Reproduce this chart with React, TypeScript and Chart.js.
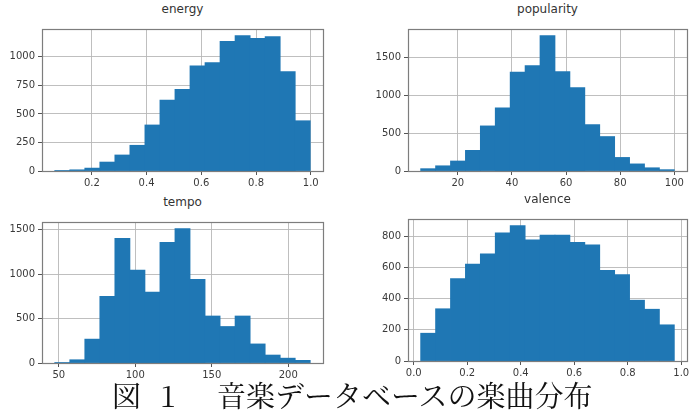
import React, { useEffect, useRef } from "react";
import { Chart, registerables } from "chart.js";
Chart.register(...registerables);

// ---- data (17 equal-width bins per histogram) ----
const energyRange = [0.0646, 0.998];
const energyCounts = [2, 10, 25, 78, 140, 225, 403, 620, 715, 922, 950, 1135, 1185, 1162, 1178, 870, 440];
const energyXTicks = [0.2, 0.4, 0.6, 0.8, 1.0];
const energyYTicks = [0, 250, 500, 750, 1000];

const popularityRange = [6.3, 100];
const popularityCounts = [30, 68, 131, 271, 593, 830, 1300, 1385, 1780, 1309, 1097, 610, 453, 178, 93, 42, 17];
const popularityXTicks = [20, 40, 60, 80, 100];
const popularityYTicks = [0, 500, 1000, 1500];

const tempoRange = [47.4, 214.4];
const tempoCounts = [3, 36, 268, 750, 1400, 1043, 796, 1357, 1510, 939, 528, 410, 528, 214, 89, 54, 29];
const tempoXTicks = [50, 100, 150, 200];
const tempoYTicks = [0, 500, 1000, 1500];

const valenceRange = [0.026, 0.974];
const valenceCounts = [178, 335, 528, 622, 687, 822, 868, 778, 808, 808, 762, 745, 582, 555, 390, 332, 232];
const valenceXTicks = [0.0, 0.2, 0.4, 0.6, 0.8, 1.0];
const valenceYTicks = [0, 200, 400, 600, 800];

const captionLabel = "図";
const captionNumber = "1";
const captionText = "音楽データベースの楽曲分布";

const BAR = "#1f77b4";
const Y_W = 44;
const X_H = 22;
const PAD_T = 4;
const PAD_R = 8;

const framePlugin = {
  id: "frame",
  afterDraw(chart: any) {
    const { ctx, chartArea: a } = chart;
    ctx.save();
    ctx.strokeStyle = "#7d7d7d";
    ctx.lineWidth = 1.2;
    ctx.strokeRect(Math.round(a.left) + 0.5, Math.round(a.top) + 0.5, Math.round(a.right - a.left), Math.round(a.bottom - a.top));
    ctx.restore();
  },
};

type PanelProps = {
  title: string;
  range: number[];
  counts: number[];
  xTicks: number[];
  yTicks: number[];
  xDec: number;
  box: { L: number; R: number; T: number; B: number };
  titleY: number;
};

function Panel({ title, range, counts, xTicks, yTicks, xDec, box, titleY }: PanelProps) {
  const ref = useRef<HTMLCanvasElement | null>(null);
  const width = box.R - box.L + Y_W + PAD_R;
  const height = box.B - box.T + PAD_T + X_H;

  useEffect(() => {
    const n = counts.length;
    const w = (range[1] - range[0]) / n;
    const pts = counts.map((c, i) => ({ x: range[0] + w * (i + 0.5), y: c }));
    const span = range[1] - range[0];
    const xmin = range[0] - 0.05 * span;
    const xmax = range[1] + 0.05 * span;
    const ymax = Math.max(...counts) * 1.05;
    const font = { family: "DejaVu Sans", size: 10 };
    const chart = new Chart(ref.current as HTMLCanvasElement, {
      type: "bar",
      data: {
        datasets: [
          {
            data: pts as any,
            backgroundColor: BAR,
            borderWidth: 0,
            barPercentage: 1,
            categoryPercentage: 1,
            inflateAmount: 0.4,
          } as any,
        ],
      },
      options: {
        animation: false,
        responsive: false,
        maintainAspectRatio: false,
        layout: { padding: { top: PAD_T, right: PAD_R, left: 0, bottom: 0 } },
        plugins: { legend: { display: false }, tooltip: { enabled: false }, title: { display: false } },
        scales: {
          x: {
            type: "linear",
            min: xmin,
            max: xmax,
            offset: false,
            z: 1,
            afterBuildTicks: (s: any) => {
              s.ticks = xTicks.map((v) => ({ value: v }));
            },
            afterFit: (s: any) => {
              s.height = X_H;
            },
            ticks: {
              autoSkip: false,
              maxRotation: 0,
              padding: 2,
              color: "#3a3a3a",
              font,
              callback: (v: any) => Number(v).toFixed(xDec),
            },
            grid: {
              color: "#b8b8b8",
              lineWidth: 0.9,
              offset: false,
              drawTicks: true,
              tickLength: 4,
              tickColor: "#555",
              tickWidth: 1,
            },
            border: { display: false },
          } as any,
          y: {
            type: "linear",
            min: 0,
            max: ymax,
            z: 1,
            afterBuildTicks: (s: any) => {
              s.ticks = yTicks.map((v) => ({ value: v }));
            },
            afterFit: (s: any) => {
              s.width = Y_W;
            },
            ticks: {
              autoSkip: false,
              padding: 3,
              color: "#3a3a3a",
              font,
              callback: (v: any) => String(v),
            },
            grid: {
              color: "#b8b8b8",
              lineWidth: 0.9,
              drawTicks: true,
              tickLength: 4,
              tickColor: "#555",
              tickWidth: 1,
            },
            border: { display: false },
          } as any,
        },
      },
      plugins: [framePlugin],
    });
    return () => chart.destroy();
  }, []);

  const cx = (box.L + box.R) / 2;
  return (
    <>
      <div
        style={{
          position: "absolute",
          left: cx - 100,
          width: 200,
          top: titleY - 8,
          textAlign: "center",
          fontFamily: "DejaVu Sans",
          fontSize: 12,
          lineHeight: "14px",
          color: "#333",
        }}
      >
        {title}
      </div>
      <canvas
        ref={ref}
        width={width}
        height={height}
        style={{ position: "absolute", left: box.L - Y_W, top: box.T - PAD_T, width, height }}
      />
    </>
  );
}

export default function App() {
  const capStyle: React.CSSProperties = {
    position: "absolute",
    top: 377,
    whiteSpace: "pre",
    fontFamily: "'Noto Serif CJK JP', 'Noto Sans CJK JP', serif",
    fontSize: 29,
    lineHeight: "36px",
    color: "#111",
  };
  return (
    <div
      style={{
        position: "fixed",
        left: 0,
        top: 0,
        width: 691,
        height: 416,
        overflow: "hidden",
        background: "#ffffff",
      }}
    >
      <Panel title="energy" range={energyRange} counts={energyCounts} xTicks={energyXTicks} yTicks={energyYTicks} xDec={1}
        box={{ L: 42, R: 323, T: 24, B: 171 }} titleY={10} />
      <Panel title="popularity" range={popularityRange} counts={popularityCounts} xTicks={popularityXTicks} yTicks={popularityYTicks} xDec={0}
        box={{ L: 408, R: 687, T: 24, B: 171 }} titleY={10} />
      <Panel title="tempo" range={tempoRange} counts={tempoCounts} xTicks={tempoXTicks} yTicks={tempoYTicks} xDec={0}
        box={{ L: 42, R: 323, T: 217, B: 363 }} titleY={203} />
      <Panel title="valence" range={valenceRange} counts={valenceCounts} xTicks={valenceXTicks} yTicks={valenceYTicks} xDec={1}
        box={{ L: 408, R: 687, T: 214, B: 361 }} titleY={200} />
      <div style={{ ...capStyle, left: 112 }}>{captionLabel}</div>
      <div style={{ ...capStyle, left: 160 }}>{captionNumber}</div>
      <div style={{ ...capStyle, left: 217 }}>{captionText}</div>
    </div>
  );
}
